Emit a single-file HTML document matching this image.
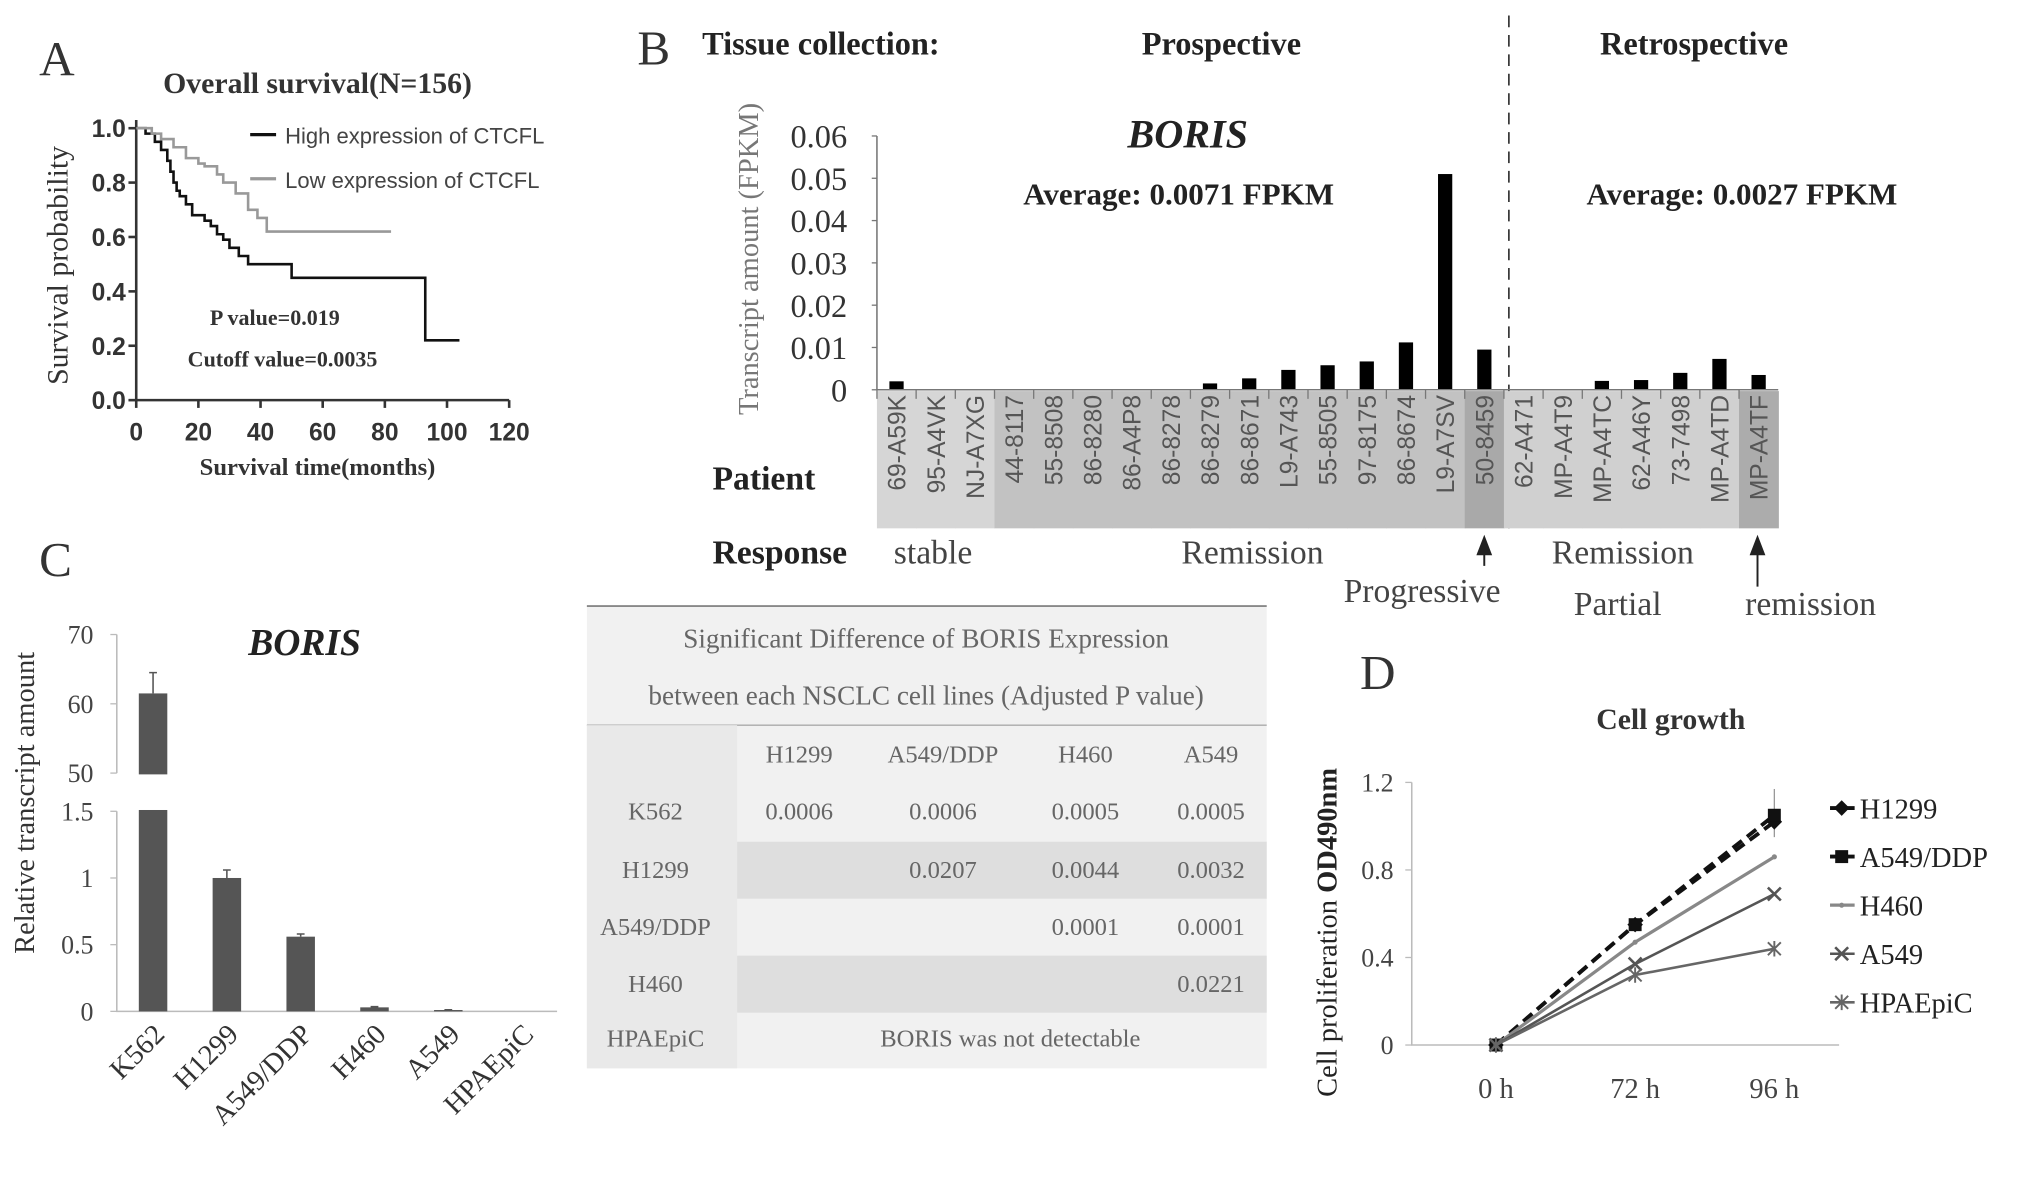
<!DOCTYPE html>
<html><head><meta charset="utf-8"><style>
html,body{margin:0;padding:0;background:#fff}
svg{display:block}
text{font-family:"Liberation Serif",serif}
.sans{font-family:"Liberation Sans",sans-serif}
</style></head><body>
<svg id="fig" width="2031" height="1181" viewBox="0 0 1568 912" xmlns="http://www.w3.org/2000/svg">
<g id="pA">
<text x="30" y="58" font-size="38" fill="#333">A</text>
<text x="245" y="72" font-size="23" font-weight="bold" text-anchor="middle" fill="#333">Overall survival(N=156)</text>
<text transform="translate(52,205) rotate(-90)" font-size="23" text-anchor="middle" fill="#333">Survival probability</text>
<text x="245" y="367" font-size="19" font-weight="bold" text-anchor="middle" fill="#333">Survival time(months)</text>
<line x1="193" y1="104" x2="213" y2="104" stroke="#111" stroke-width="2.5"/>
<text class="sans" x="220" y="111" font-size="17" fill="#444">High expression of CTCFL</text>
<line x1="193" y1="138" x2="213" y2="138" stroke="#999" stroke-width="2.5"/>
<text class="sans" x="220" y="145" font-size="17" fill="#444">Low expression of CTCFL</text>
<text x="212" y="251" font-size="17" font-weight="bold" text-anchor="middle" fill="#333">P  value=0.019</text>
<text x="218" y="283" font-size="17" font-weight="bold" text-anchor="middle" fill="#333">Cutoff  value=0.0035</text>
</g>
<g id="pB">
<text x="492" y="50" font-size="38" fill="#333">B</text>
<text x="542" y="42" font-size="25" font-weight="bold" fill="#222">Tissue  collection:</text>
<text x="943" y="42" font-size="25" font-weight="bold" text-anchor="middle" fill="#222">Prospective</text>
<text x="1308" y="42" font-size="25" font-weight="bold" text-anchor="middle" fill="#222">Retrospective</text>
<line x1="1165" y1="12" x2="1165" y2="408" stroke="#333" stroke-width="1.3" stroke-dasharray="9,6"/>
<text x="917" y="114" font-size="31" font-weight="bold" font-style="italic" text-anchor="middle" fill="#222">BORIS</text>
<text x="910" y="158" font-size="24" font-weight="bold" text-anchor="middle" fill="#222">Average: 0.0071 FPKM</text>
<text x="1345" y="158" font-size="24" font-weight="bold" text-anchor="middle" fill="#222">Average: 0.0027 FPKM</text>
<text transform="translate(585,200) rotate(-90)" font-size="22" text-anchor="middle" fill="#777">Transcript amount (FPKM)</text>
<text x="550" y="378" font-size="26" font-weight="bold" fill="#222">Patient</text>
<text x="550" y="435" font-size="26" font-weight="bold" fill="#222">Response</text>
<text x="690" y="435" font-size="26" fill="#444">stable</text>
<text x="967" y="435" font-size="26" text-anchor="middle" fill="#444">Remission</text>
<text x="1098" y="465" font-size="26" text-anchor="middle" fill="#444">Progressive</text>
<text x="1253" y="435" font-size="26" text-anchor="middle" fill="#444">Remission</text>
<text x="1249" y="475" font-size="26" text-anchor="middle" fill="#444">Partial</text>
<text x="1398" y="475" font-size="26" text-anchor="middle" fill="#444">remission</text>
<path d="M1146 437 V418 M1141 428 L1146 415 L1151 428 Z" stroke="#222" stroke-width="1.5" fill="#222"/>
<path d="M1357 453 V418 M1352 428 L1357 415 L1362 428 Z" stroke="#222" stroke-width="1.5" fill="#222"/>
</g>
<g id="pC">
<text x="30" y="445" font-size="38" fill="#333">C</text>
<text x="235" y="506" font-size="29" font-weight="bold" font-style="italic" text-anchor="middle" fill="#222">BORIS</text>
<text transform="translate(26,620) rotate(-90)" font-size="22" text-anchor="middle" fill="#333">Relative transcript amount</text>
</g>
<g id="tbl">
<rect x="453" y="468" width="525" height="357" fill="#f1f1f1"/>
<line x1="453" y1="468" x2="978" y2="468" stroke="#888" stroke-width="1.5"/>
<line x1="453" y1="560" x2="978" y2="560" stroke="#aaa" stroke-width="1"/>
<rect x="569" y="650" width="409" height="44" fill="#dedede"/>
<rect x="569" y="738" width="409" height="44" fill="#dedede"/>
<rect x="453" y="560" width="116" height="265" fill="#e9e9e9"/>
<g font-size="19" fill="#666" text-anchor="middle">
<text x="715" y="500" font-size="21">Significant Difference of BORIS Expression</text>
<text x="715" y="544" font-size="21">between each NSCLC cell lines (Adjusted P value)</text>
<text x="617" y="589">H1299</text><text x="728" y="589">A549/DDP</text><text x="838" y="589">H460</text><text x="935" y="589">A549</text>
<text x="506" y="633">K562</text><text x="617" y="633">0.0006</text><text x="728" y="633">0.0006</text><text x="838" y="633">0.0005</text><text x="935" y="633">0.0005</text>
<text x="506" y="678">H1299</text><text x="728" y="678">0.0207</text><text x="838" y="678">0.0044</text><text x="935" y="678">0.0032</text>
<text x="506" y="722">A549/DDP</text><text x="838" y="722">0.0001</text><text x="935" y="722">0.0001</text>
<text x="506" y="766">H460</text><text x="935" y="766">0.0221</text>
<text x="506" y="808">HPAEpiC</text><text x="780" y="808">BORIS was not detectable</text>
</g>
</g>
<g id="pD">
<text x="1050" y="532" font-size="38" fill="#333">D</text>
<text x="1290" y="563" font-size="23" font-weight="bold" text-anchor="middle" fill="#333">Cell growth</text>
<text transform="translate(1032,720) rotate(-90)" font-size="22" text-anchor="middle" fill="#222">Cell proliferation <tspan font-weight="bold">OD490nm</tspan></text>
</g>
</svg>
<script>
const NS='http://www.w3.org/2000/svg';
function mk(p,tag,a,txt){const e=document.createElementNS(NS,tag);for(const k in a)e.setAttribute(k,a[k]);if(txt!==undefined)e.textContent=txt;p.appendChild(e);return e;}
// ---------- Panel A data ----------
const kmHighT=[0,3,6,8,10,11,12,13,14,16,18,20,22,24,26,28,30,33,36,50,93,104];
const kmHighS=[1,0.98,0.95,0.92,0.88,0.84,0.80,0.77,0.75,0.72,0.68,0.68,0.66,0.64,0.61,0.59,0.56,0.53,0.50,0.45,0.22,0.22];
const kmLowT=[0,5,8,12,16,20,22,26,28,32,36,39,42,82];
const kmLowS=[1,0.98,0.96,0.93,0.89,0.87,0.86,0.83,0.80,0.76,0.70,0.67,0.62,0.62];
const aXTicks=[0,20,40,60,80,100,120];
const aYTicks=[0,0.2,0.4,0.6,0.8,1.0];
const pA=document.getElementById('pA');
const ax=t=>105+t*2.4, ay=s=>309-s*210;
mk(pA,'path',{d:`M${ax(0)} ${ay(1.03)} V${ay(0)} H${ax(120)}`,stroke:'#333','stroke-width':2,fill:'none'});
aXTicks.forEach(t=>{mk(pA,'line',{x1:ax(t),x2:ax(t),y1:ay(0),y2:ay(0)+6,stroke:'#333','stroke-width':2});
 const l=mk(pA,'text',{x:ax(t),y:340,'font-size':19,'font-weight':'bold','text-anchor':'middle',fill:'#333',class:'sans'},t);
 
 });
aYTicks.forEach(s=>{mk(pA,'line',{x1:ax(0)-6,x2:ax(0),y1:ay(s),y2:ay(s),stroke:'#333','stroke-width':2});
 const l=mk(pA,'text',{x:ax(0)-8,y:ay(s)+7,'font-size':19,'font-weight':'bold','text-anchor':'end',fill:'#333',class:'sans'},s.toFixed(1));
 
 });
function step(T,S){let d=`M${ax(T[0])} ${ay(S[0])}`;for(let i=1;i<T.length;i++)d+=` H${ax(T[i])} V${ay(S[i])}`;return d;}
const hc=mk(pA,'path',{d:step(kmHighT,kmHighS),stroke:'#111','stroke-width':2,fill:'none'});


const lc=mk(pA,'path',{d:step(kmLowT,kmLowS),stroke:'#999','stroke-width':2,fill:'none'});


// ---------- Panel B data ----------
const patients=['69-A59K','95-A4VK','NJ-A7XG','44-8117','55-8508','86-8280','86-A4P8','86-8278','86-8279','86-8671','L9-A743','55-8505','97-8175','86-8674','L9-A7SV','50-8459','62-A471','MP-A4T9','MP-A4TC','62-A46Y','73-7498','MP-A4TD','MP-A4TF'];
const fpkm=[0.002,0,0,0,0,0,0,0,0.0015,0.0027,0.0047,0.0058,0.0067,0.0112,0.051,0.0095,0,0,0.0021,0.0023,0.0040,0.0073,0.0035];
const groupShade=['#d6d6d6','#d6d6d6','#d6d6d6','#c2c2c2','#c2c2c2','#c2c2c2','#c2c2c2','#c2c2c2','#c2c2c2','#c2c2c2','#c2c2c2','#c2c2c2','#c2c2c2','#c2c2c2','#c2c2c2','#a9a9a9','#d0d0d0','#d0d0d0','#d0d0d0','#d0d0d0','#d0d0d0','#d0d0d0','#acacac'];
const bTicks=[0,0.01,0.02,0.03,0.04,0.05,0.06];
const pB=document.getElementById('pB');
const bx0=677,bw=(1373-677)/patients.length, by=v=>301-v*196/0.06*1;
patients.forEach((p,i)=>{const x=bx0+i*bw;
 mk(pB,'rect',{x:x,y:302,width:bw+0.5,height:106,fill:groupShade[i]});
 const l=mk(pB,'text',{transform:`translate(${x+bw/2+7},${305}) rotate(-90)`,'font-size':19,'text-anchor':'end',fill:'#555',class:'sans'},p);
 
 
 mk(pB,'line',{x1:x,x2:x,y1:301,y2:308,stroke:'#777'});
 if(fpkm[i]>0){const b=mk(pB,'rect',{x:x+bw/2-5.5,y:by(fpkm[i]),width:11,height:301-by(fpkm[i]),fill:'#000'});
 
 }
});
mk(pB,'path',{d:`M${bx0} ${by(0.06)} V301 H1373`,stroke:'#777','stroke-width':1.2,fill:'none'});
bTicks.forEach(v=>{mk(pB,'line',{x1:bx0-4,x2:bx0,y1:by(v),y2:by(v),stroke:'#777'});
 const l=mk(pB,'text',{x:654,y:by(v)+9,'font-size':25,'text-anchor':'end',fill:'#333'},v===0?'0':v.toString());
 
 });
// ---------- Panel C data ----------
const cellLines=['K562','H1299','A549/DDP','H460','A549','HPAEpiC'];
const relAmount=[61.5,1.0,0.56,0.03,0.01,0];
const relErr=[3,0.06,0.02,0.005,0.002,0];
const cLowTicks=[0,0.5,1,1.5];
const cHighTicks=[50,60,70];
const pC=document.getElementById('pC');
const cyLow=v=>781-v*103, cyHigh=v=>597-(v-50)*5.35;
const cy=v=>v<=1.5?cyLow(v):cyHigh(v);
mk(pC,'path',{d:`M90 ${cyHigh(70)} V${cyHigh(50)} M90 ${cyLow(1.5)} V781 H430`,stroke:'#bbb','stroke-width':1.2,fill:'none'});
cLowTicks.forEach(v=>{mk(pC,'line',{x1:85,x2:90,y1:cyLow(v),y2:cyLow(v),stroke:'#bbb'});
 const l=mk(pC,'text',{x:72,y:cyLow(v)+7,'font-size':20,'text-anchor':'end',fill:'#444'},v);
 
 });
cHighTicks.forEach(v=>{mk(pC,'line',{x1:85,x2:90,y1:cyHigh(v),y2:cyHigh(v),stroke:'#bbb'});
 const l=mk(pC,'text',{x:72,y:cyHigh(v)+7,'font-size':20,'text-anchor':'end',fill:'#444'},v);
 
 });
cellLines.forEach((c,i)=>{const cx=118+i*57;
 if(relAmount[i]>0){const top=cy(relAmount[i]);
  const b=mk(pC,'rect',{x:cx-11,y:top,width:22,height:781-top,fill:'#555'});
  
  
  if(relAmount[i]>1.5){mk(pC,'rect',{x:cx-13,y:cyHigh(50)+1,width:26,height:cyLow(1.5)-cyHigh(50)-2,fill:'#fff'});}
  const e1=cy(relAmount[i]+relErr[i]);
  mk(pC,'path',{d:`M${cx} ${top} V${e1} M${cx-3} ${e1} H${cx+3}`,stroke:'#555','stroke-width':1.2,fill:'none'});}
 const l=mk(pC,'text',{transform:`translate(${cx+10},${800}) rotate(-45)`,'font-size':22,'text-anchor':'end',fill:'#333'},c);
 
 });
// ---------- Panel D data ----------
const timePoints=['0 h','72 h','96 h'];
const dNames=['H1299','A549/DDP','H460','A549','HPAEpiC'];
const gH1299=[0,0.55,1.02];
const gA549DDP=[0,0.55,1.05];
const gH460=[0,0.47,0.86];
const gA549=[0,0.37,0.69];
const gHPAEpiC=[0,0.32,0.44];
const dTicks=[0,0.4,0.8,1.2];
const dSeries=[gH1299,gA549DDP,gH460,gA549,gHPAEpiC];
const dStyle=[{c:'#111',w:3,da:'9,5',m:'diamond'},{c:'#111',w:3,da:'9,5',m:'square'},{c:'#888',w:2.5,da:'',m:'dot'},{c:'#555',w:2,da:'',m:'x'},{c:'#666',w:2,da:'',m:'star'}];
const pD=document.getElementById('pD');
const dx=i=>1155+i*107.5, dy=v=>807-v*169;
mk(pD,'path',{d:`M1090 ${dy(1.2)} V807 H1420`,stroke:'#bbb','stroke-width':1.2,fill:'none'});
dTicks.forEach(v=>{mk(pD,'line',{x1:1085,x2:1090,y1:dy(v),y2:dy(v),stroke:'#bbb'});
 const l=mk(pD,'text',{x:1076,y:dy(v)+7,'font-size':20,'text-anchor':'end',fill:'#444'},v===0?'0':v.toString());
 
 });
timePoints.forEach((t,i)=>{const l=mk(pD,'text',{x:dx(i),y:848,'font-size':22,'text-anchor':'middle',fill:'#444'},t);
 
 });
function marker(g,m,x,y,c){if(m==='diamond')mk(g,'path',{d:`M${x} ${y-6} L${x+6} ${y} L${x} ${y+6} L${x-6} ${y} Z`,fill:c});
 else if(m==='square')mk(g,'rect',{x:x-5,y:y-5,width:10,height:10,fill:c});
 else if(m==='dot')mk(g,'circle',{cx:x,cy:y,r:2,fill:c});
 else if(m==='x')mk(g,'path',{d:`M${x-5} ${y-5}L${x+5} ${y+5}M${x-5} ${y+5}L${x+5} ${y-5}`,stroke:c,'stroke-width':2});
 else mk(g,'path',{d:`M${x-5} ${y-5}L${x+5} ${y+5}M${x-5} ${y+5}L${x+5} ${y-5}M${x} ${y-6}V${y+6}`,stroke:c,'stroke-width':1.5});}
mk(pD,'path',{d:`M${dx(2)} ${dy(1.17)} V${dy(0.95)}`,stroke:'#999','stroke-width':1});
dSeries.forEach((s,k)=>{const st=dStyle[k];
 const ln=mk(pD,'path',{d:s.map((v,i)=>(i?'L':'M')+dx(i)+' '+dy(v)).join(' '),stroke:st.c,'stroke-width':st.w,'stroke-dasharray':st.da,fill:'none'});
 
 
 s.forEach((v,i)=>marker(pD,st.m,dx(i),dy(v),st.c));
 const ly=624+k*37.5;
 mk(pD,'line',{x1:1413,x2:1432,y1:ly,y2:ly,stroke:st.c,'stroke-width':st.w});
 marker(pD,st.m,1422,ly,st.c);
 const lt=mk(pD,'text',{x:1436,y:ly+8,'font-size':22,fill:'#222'},dNames[k]);
 
 });
</script>
</body></html>
